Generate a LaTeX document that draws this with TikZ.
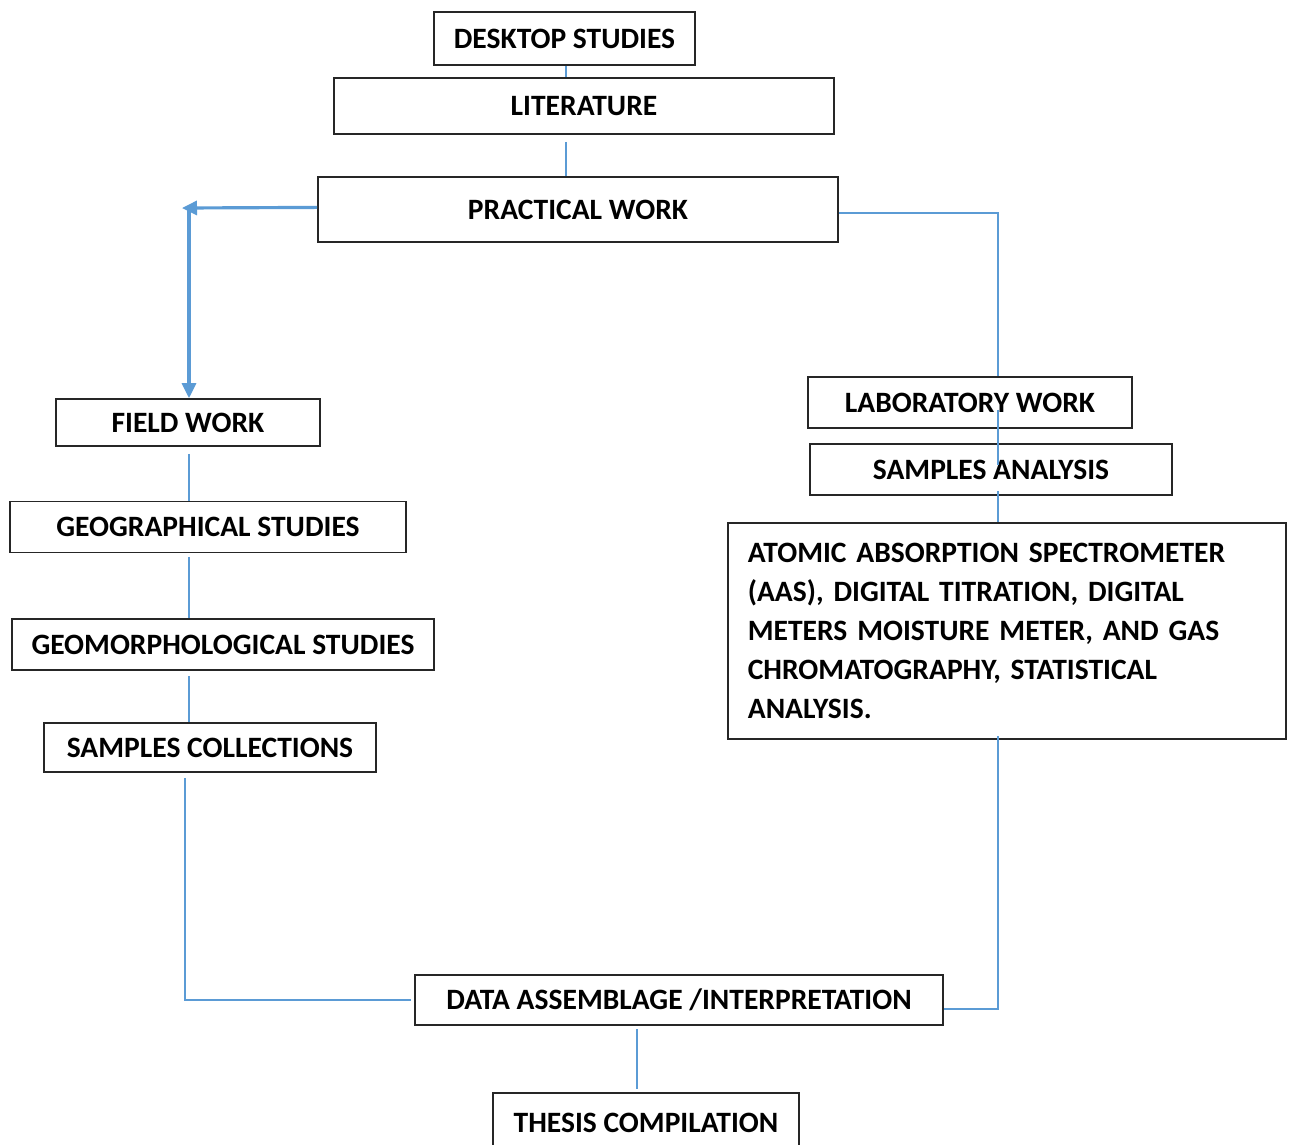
\documentclass[tikz,border=0pt]{standalone}
\usepackage{fontspec}
\setmainfont{Carlito}
\usepackage{tikz}
\usetikzlibrary{arrows.meta}
\usepackage{xcolor}
\definecolor{linkblue}{HTML}{5B9BD5}

\begin{document}
\begin{tikzpicture}[x=0.01cm,y=-0.01cm,>={Triangle[length=1.5mm,width=1.4mm]},
  font=\fontsize{8.4}{11.1}\selectfont\bfseries,
  box/.style={draw=black!85,line width=0.45pt,inner sep=0pt,align=center},
  link/.style={draw=linkblue,line width=0.4pt},
  flow/.style={draw=linkblue,fill=linkblue,line width=0.9pt,->}]
\useasboundingbox (0,0) rectangle (1293,1144);
% top column
\node[box,minimum width=2.61cm,minimum height=0.53cm] (desk) at (564.5,38.5) {DESKTOP STUDIES};
\node[box,minimum width=5.00cm,minimum height=0.56cm] (lit) at (584,106) {LITERATURE};
\node[box,minimum width=5.20cm,minimum height=0.65cm] (prac) at (578,209.5) {PRACTICAL WORK};
% field branch
\node[box,minimum width=2.64cm,minimum height=0.47cm] (field) at (188,422.5) {FIELD WORK};
\node[box,minimum width=3.96cm,minimum height=0.51cm] (geo) at (208,527) {GEOGRAPHICAL STUDIES};
\node[box,minimum width=4.22cm,minimum height=0.51cm] (geom) at (223,644.5) {GEOMORPHOLOGICAL STUDIES};
\node[box,minimum width=3.32cm,minimum height=0.49cm] (coll) at (210,747.5) {SAMPLES COLLECTIONS};
% laboratory branch
\node[box,minimum width=3.24cm,minimum height=0.51cm] (lab) at (970,402.5) {LABORATORY WORK};
\node[box,minimum width=3.62cm,minimum height=0.51cm] (ana) at (991,469.5) {SAMPLES ANALYSIS};
\node[box,minimum width=5.58cm,minimum height=2.16cm,text width=5.18cm,inner xsep=0.2cm,align=left] (aas) at (1007,631)
  {ATOMIC ABSORPTION SPECTROMETER\\ (AAS), DIGITAL TITRATION, DIGITAL\\ METERS MOISTURE METER, AND GAS\\ CHROMATOGRAPHY, STATISTICAL\\ ANALYSIS.};
% bottom
\node[box,minimum width=5.28cm,minimum height=0.50cm] (data) at (679,1000) {DATA ASSEMBLAGE /INTERPRETATION};
\node[box,minimum width=3.06cm,minimum height=0.60cm] (thesis) at (646,1123) {THESIS COMPILATION};

\coordinate (mid) at (566,0);
\coordinate (lt) at (189,0);
\coordinate (lb) at (185,0);
\coordinate (rt) at (998,0);
\coordinate (bt) at (637,0);
\coordinate (corner) at (182,208);

\draw[link] (desk.south -| mid) -- (lit.north -| mid);
\draw[link] ([yshift=-2pt]lit.south -| mid) -- (prac.north -| mid);
\draw[flow] ([yshift=0.6pt]prac.west) -- (corner);
\draw[flow] (corner -| lt) -- (field.north -| lt);
\draw[link] ([yshift=-1pt]prac.east) -| (lab.north -| rt);
\draw[link] ([yshift=-2pt]lab.center -| rt) -- ++(0,55);
\draw[link] ([yshift=1.4pt]ana.south -| rt) -- (aas.north -| rt);
\draw[link] ([yshift=-2pt]field.south -| lt) -- (geo.north -| lt);
\draw[link] ([yshift=-1pt]geo.south -| lt) -- (geom.north -| lt);
\draw[link] ([yshift=-1.5pt]geom.south -| lt) -- (coll.north -| lt);
\draw[link] ([yshift=-1.5pt]coll.south -| lb) |- ([xshift=-1pt]data.west);
\draw[link] ([yshift=1pt]aas.south -| rt) |- ([yshift=-2.5pt]data.east);
\draw[link] ([yshift=-1pt]data.south -| bt) -- ([yshift=1pt]thesis.north -| bt);
\end{tikzpicture}
\end{document}
